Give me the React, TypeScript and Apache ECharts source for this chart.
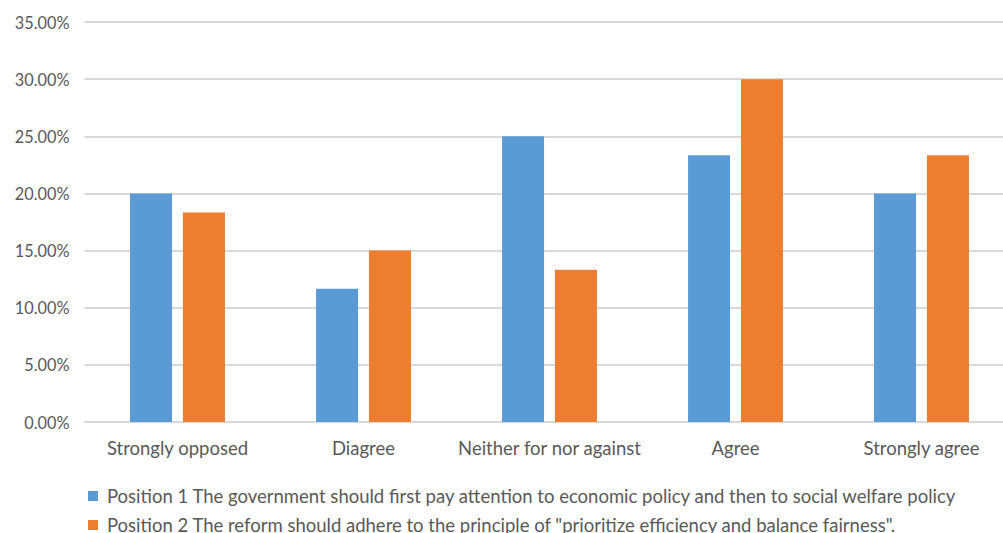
import React, { useEffect, useRef } from "react";
import * as echarts from "echarts";

const categories = ["Strongly opposed", "Diagree", "Neither for nor against", "Agree", "Strongly agree"];
const position1 = [20.0, 11.67, 25.0, 23.33, 20.0];
const position2 = [18.33, 15.0, 13.33, 30.0, 23.33];
const seriesNames = [
  "Position 1 The government should first pay attention to economic policy and then to social welfare policy",
  'Position 2 The reform should adhere to the principle of "prioritize efficiency and balance fairness".',
];

const FONT = "Lato";
const TXT = "#595959";

export default function App() {
  const ref = useRef<HTMLDivElement>(null);
  useEffect(() => {
    const chart = echarts.init(ref.current!, null, { renderer: "svg" });
    const legendBase = {
      orient: "horizontal",
      left: 83,
      itemWidth: 10,
      itemHeight: 10,
      itemGap: 10,
      icon: "rect",
      textStyle: { color: TXT, fontSize: 18.5, fontFamily: FONT, lineHeight: 20, padding: [0, 0, 0, 4] },
    };
    chart.setOption({
      animation: false,
      textStyle: { fontFamily: FONT },
      grid: { left: 84.5, top: 22, width: 930, height: 400, containLabel: false },
      legend: [
        { ...legendBase, top: 481, data: [seriesNames[0]] },
        { ...legendBase, top: 510, data: [seriesNames[1]] },
      ],
      xAxis: {
        type: "category",
        data: categories,
        axisLine: { lineStyle: { color: "#d9d9d9", width: 2 } },
        axisTick: { show: false },
        axisLabel: { color: TXT, fontSize: 18.5, margin: 16, interval: 0, fontFamily: FONT },
      },
      yAxis: {
        type: "value",
        min: 0,
        max: 35,
        interval: 5,
        axisLine: { show: false },
        axisTick: { show: false },
        splitLine: { lineStyle: { color: "#d9d9d9", width: 2 } },
        axisLabel: {
          color: TXT,
          fontSize: 16.3,
          margin: 15,
          fontFamily: FONT,
          formatter: (v: number) => v.toFixed(2) + "%",
        },
      },
      series: [
        {
          name: seriesNames[0],
          type: "bar",
          data: position1,
          barWidth: 42,
          barGap: "26%",
          itemStyle: { color: "#5b9bd5" },
        },
        {
          name: seriesNames[1],
          type: "bar",
          data: position2,
          barWidth: 42,
          itemStyle: { color: "#ed7d31" },
        },
      ],
    });
    return () => chart.dispose();
  }, []);
  return (
    <div style={{ position: "absolute", left: 0, top: 0, width: 1003, height: 533, overflow: "hidden", background: "#fff" }}>
      <div ref={ref} style={{ position: "absolute", left: 0, top: 0, width: 1020, height: 533 }} />
    </div>
  );
}
